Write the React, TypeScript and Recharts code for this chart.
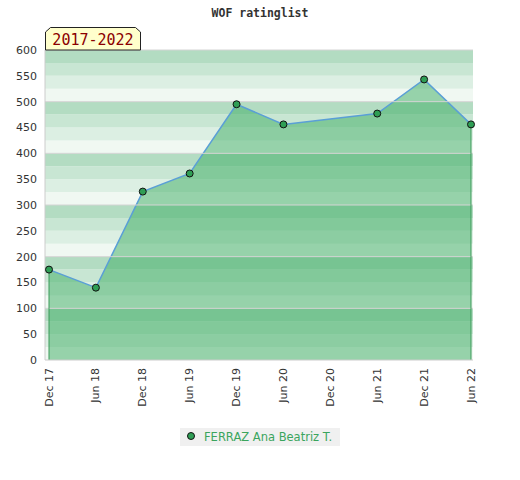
import React from 'react';
import {
  AreaChart,
  Area,
  XAxis,
  YAxis,
  ReferenceArea,
  ReferenceLine,
  Legend,
} from 'recharts';

const periods = ['Dec 17', 'Jun 18', 'Dec 18', 'Jun 19', 'Dec 19', 'Jun 20', 'Dec 20', 'Jun 21', 'Dec 21', 'Jun 22'];
const ratings: (number | null)[] = [175, 140, 326, 361, 495, 456, null, 477, 543, 456];
const playerName = 'FERRAZ Ana Beatriz T.';
const yearRange = '2017-2022';

const leftTicks = [0, 50, 100, 150, 200, 250, 300, 350, 400, 450, 500, 550, 600];
const rightTicks = Array.from({ length: 61 }, (_, i) => i * 10);
// colours of the four 25-point bands inside every hundred, bottom to top
const bandColors = ['#f0f8f2', '#dcefe3', '#c8e6d3', '#b3dcc2'];

const chartData = periods.map((p, i) => ({ period: p, rating: ratings[i] }));

const bands = Array.from({ length: 24 }, (_, i) => ({
  y1: i * 25,
  y2: i * 25 + 25,
  fill: bandColors[i % 4],
}));

const FONT = '"DejaVu Sans", Verdana, sans-serif';

const XTick = (props: any) => {
  const { x, y, payload } = props;
  return (
    <text
      x={x}
      y={y}
      transform={`rotate(-90 ${x} ${y})`}
      textAnchor="end"
      dominantBaseline="central"
      fontSize={11}
      fontFamily={FONT}
      fill="#333"
    >
      {payload.value}
    </text>
  );
};

const Dot = (props: any) => {
  const { cx, cy, value } = props;
  if (value == null || cx == null || cy == null) return null;
  return <circle cx={cx} cy={cy} r={3.5} fill="#2f9e55" stroke="#111" strokeWidth={1} />;
};

const LegendBox = () => (
  <div style={{ display: 'flex', justifyContent: 'center', marginTop: 8 }}>
    <div
      style={{
        background: '#f0f0f0',
        height: 18,
        width: 160,
        display: 'flex',
        alignItems: 'center',
        fontFamily: FONT,
        fontSize: 11.5,
        color: '#3aa55d',
      }}
    >
      <svg width={24} height={18}>
        <circle cx={11} cy={8} r={3.5} fill="#2f9e55" stroke="#111" strokeWidth={1} />
      </svg>
      <span>{playerName}</span>
    </div>
  </div>
);

export default function App() {
  return (
    <div style={{ position: 'absolute', left: 0, top: 0, width: 520, height: 480, background: '#fff' }}>
      <div
        style={{
          position: 'absolute',
          top: 6,
          left: 0,
          width: 520,
          textAlign: 'center',
          fontFamily: '"DejaVu Sans Mono", monospace',
          fontWeight: 'bold',
          fontSize: 11.5,
          color: '#333',
        }}
      >
        WOF ratinglist
      </div>

      <AreaChart
        width={520}
        height={480}
        data={chartData}
        margin={{ top: 50, right: 0, bottom: 0, left: 0 }}
      >
        {/* full-width axis used only for the striped background */}
        <XAxis xAxisId="bg" type="number" domain={[0, 1]} hide />
        {bands.map((b) => (
          <ReferenceArea
            key={b.y1}
            xAxisId="bg"
            yAxisId="left"
            y1={b.y1}
            y2={b.y2}
            fill={b.fill}
            fillOpacity={1}
            stroke="none"
            ifOverflow="hidden"
          />
        ))}
        {leftTicks
          .filter((t) => t % 100 === 0 && t > 0)
          .map((t) => (
            <ReferenceLine key={t} xAxisId="bg" yAxisId="left" y={t} stroke="#d4d4d4" strokeWidth={1} />
          ))}
        <XAxis
          dataKey="period"
          padding={{ left: 4, right: 2 }}
          height={60}
          tick={<XTick />}
          tickLine={false}
          interval={0}
          axisLine={{ stroke: '#cccccc' }}
        />
        <YAxis
          yAxisId="left"
          orientation="left"
          width={45}
          domain={[0, 600]}
          ticks={leftTicks}
          interval={0}
          tickLine={false}
          axisLine={{ stroke: '#cccccc' }}
          tick={{ fontSize: 11, fill: '#333', fontFamily: FONT }}
        />
        <YAxis
          yAxisId="right"
          orientation="right"
          width={47}
          domain={[0, 600]}
          ticks={rightTicks}
          interval={0}
          tickSize={3}
          tickMargin={8}
          tickLine={{ stroke: '#111' }}
          axisLine={false}
          tickFormatter={(v: number) => (v % 50 === 0 ? String(v) : '')}
          tick={{ fontSize: 11, fill: '#111', fontFamily: FONT }}
        />
        <Area
          yAxisId="left"
          type="linear"
          dataKey="rating"
          name={playerName}
          connectNulls
          stroke="#5a9fd6"
          strokeWidth={1.5}
          fill="#3cab62"
          fillOpacity={0.5}
          dot={<Dot />}
          activeDot={false}
          isAnimationActive={false}
        />
        <ReferenceLine
          yAxisId="left"
          segment={[
            { x: periods[0], y: 0 },
            { x: periods[0], y: ratings[0] as number },
          ]}
          stroke="#3a9a58"
          strokeWidth={1}
        />
        <ReferenceLine
          yAxisId="left"
          segment={[
            { x: periods[periods.length - 1], y: 0 },
            { x: periods[periods.length - 1], y: ratings[ratings.length - 1] as number },
          ]}
          stroke="#3a9a58"
          strokeWidth={1}
        />
        <Legend verticalAlign="bottom" height={60} content={<LegendBox />} />
      </AreaChart>

      <svg style={{ position: 'absolute', left: 0, top: 0 }} width={200} height={60}>
        <polygon
          points="45.5,50 45.5,32 50.5,27.5 135.5,27.5 140.5,32 140.5,50"
          fill="#ffffcc"
          stroke="#222"
          strokeWidth={1}
        />
        <text
          x={93}
          y={45}
          textAnchor="middle"
          fontFamily='"DejaVu Sans Mono", monospace'
          fontSize={15}
          fill="#8b0000"
        >
          {yearRange}
        </text>
      </svg>
    </div>
  );
}
